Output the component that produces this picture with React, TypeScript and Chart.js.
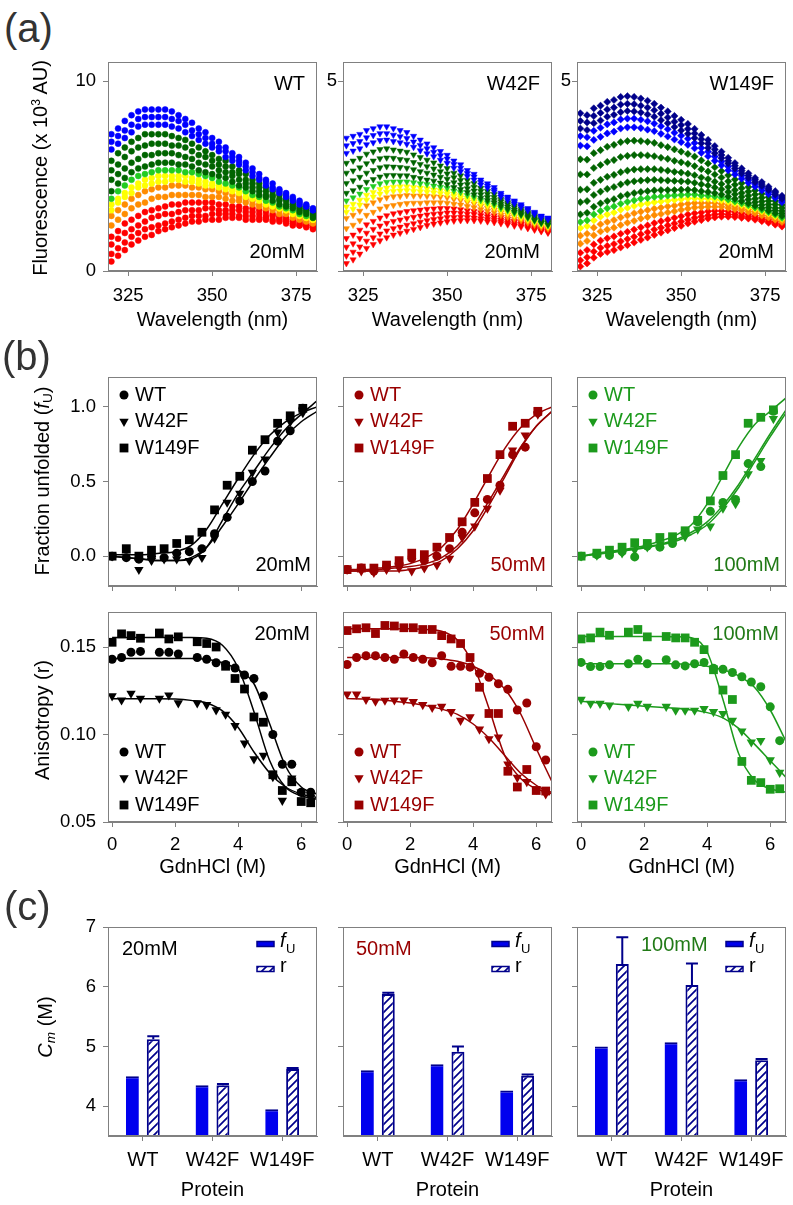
import React, { useEffect, useRef } from 'react';
import { Chart, registerables } from 'chart.js';

Chart.register(...registerables);

const FONT = 'Arial, "Liberation Sans", Helvetica, sans-serif';
Chart.defaults.font.family = FONT;
Chart.defaults.color = '#000';

// ---------------- (a) emission spectra ----------------
const WAVELENGTHS = [320, 322, 324, 326, 328, 330, 332, 334, 336, 338, 340, 342, 344, 346, 348, 350, 352, 354, 356, 358, 360, 362, 364, 366, 368, 370, 372, 374, 376, 378, 380];

const WT_S01 = [7.2, 7.5, 7.9, 8.2, 8.4, 8.5, 8.5, 8.5, 8.5, 8.4, 8.2, 8.0, 7.8, 7.5, 7.3, 7.0, 6.8, 6.5, 6.2, 6.0, 5.7, 5.4, 5.1, 4.8, 4.6, 4.3, 4.1, 3.9, 3.7, 3.5, 3.3];
const WT_S02 = [6.8, 7.1, 7.4, 7.7, 8.0, 8.1, 8.1, 8.1, 8.1, 8.0, 7.9, 7.7, 7.4, 7.2, 7.0, 6.7, 6.5, 6.3, 6.0, 5.8, 5.5, 5.2, 4.9, 4.7, 4.4, 4.2, 4.0, 3.8, 3.6, 3.4, 3.2];
const WT_S03 = [6.4, 6.7, 7.0, 7.3, 7.6, 7.7, 7.7, 7.7, 7.7, 7.6, 7.5, 7.3, 7.1, 6.9, 6.7, 6.5, 6.3, 6.0, 5.8, 5.6, 5.3, 5.0, 4.8, 4.5, 4.3, 4.1, 3.9, 3.7, 3.5, 3.4, 3.2];
const WT_S04 = [5.8, 6.2, 6.5, 6.8, 7.0, 7.2, 7.2, 7.2, 7.2, 7.1, 7.0, 6.9, 6.7, 6.5, 6.3, 6.1, 5.9, 5.8, 5.5, 5.3, 5.1, 4.8, 4.6, 4.4, 4.2, 4.0, 3.8, 3.6, 3.4, 3.3, 3.1];
const WT_S05 = [5.3, 5.6, 6.0, 6.3, 6.5, 6.6, 6.7, 6.7, 6.7, 6.6, 6.6, 6.5, 6.3, 6.1, 6.0, 5.8, 5.6, 5.5, 5.2, 5.1, 4.8, 4.6, 4.4, 4.2, 4.0, 3.8, 3.7, 3.5, 3.3, 3.2, 3.0];
const WT_S06 = [4.8, 5.1, 5.4, 5.7, 5.9, 6.1, 6.1, 6.2, 6.2, 6.2, 6.1, 6.0, 5.9, 5.7, 5.6, 5.5, 5.3, 5.2, 5.0, 4.8, 4.6, 4.4, 4.2, 4.0, 3.9, 3.7, 3.5, 3.4, 3.2, 3.1, 2.9];
const WT_S07 = [4.2, 4.6, 4.9, 5.2, 5.4, 5.5, 5.6, 5.7, 5.7, 5.7, 5.6, 5.6, 5.5, 5.3, 5.2, 5.1, 5.0, 4.9, 4.7, 4.5, 4.4, 4.2, 4.0, 3.9, 3.7, 3.5, 3.4, 3.3, 3.1, 3.0, 2.8];
const WT_S08 = [3.8, 4.2, 4.5, 4.8, 5.0, 5.1, 5.2, 5.3, 5.3, 5.3, 5.3, 5.2, 5.2, 5.1, 5.0, 4.9, 4.7, 4.6, 4.5, 4.4, 4.2, 4.0, 3.9, 3.7, 3.6, 3.4, 3.3, 3.2, 3.0, 2.9, 2.8];
const WT_S09 = [3.5, 3.8, 4.1, 4.4, 4.6, 4.8, 4.9, 5.0, 5.0, 5.0, 5.0, 5.0, 4.9, 4.8, 4.7, 4.6, 4.5, 4.4, 4.3, 4.2, 4.1, 3.9, 3.8, 3.6, 3.5, 3.3, 3.2, 3.1, 3.0, 2.8, 2.7];
const WT_S10 = [3.2, 3.6, 3.9, 4.1, 4.4, 4.5, 4.6, 4.7, 4.7, 4.8, 4.8, 4.7, 4.7, 4.6, 4.5, 4.5, 4.4, 4.3, 4.2, 4.1, 3.9, 3.8, 3.7, 3.5, 3.4, 3.3, 3.2, 3.0, 2.9, 2.8, 2.7];
const WT_S11 = [2.9, 3.2, 3.5, 3.8, 4.0, 4.2, 4.3, 4.4, 4.4, 4.5, 4.5, 4.5, 4.4, 4.4, 4.3, 4.3, 4.2, 4.1, 4.0, 3.9, 3.8, 3.7, 3.5, 3.4, 3.3, 3.2, 3.1, 3.0, 2.8, 2.7, 2.6];
const WT_S12 = [2.4, 2.7, 3.0, 3.3, 3.5, 3.6, 3.8, 3.9, 3.9, 4.0, 4.0, 4.0, 4.0, 4.0, 3.9, 3.9, 3.9, 3.8, 3.7, 3.7, 3.6, 3.5, 3.4, 3.3, 3.2, 3.0, 3.0, 2.8, 2.7, 2.6, 2.5];
const WT_S13 = [1.8, 2.1, 2.5, 2.7, 2.9, 3.1, 3.2, 3.3, 3.4, 3.5, 3.5, 3.6, 3.6, 3.6, 3.6, 3.6, 3.5, 3.5, 3.4, 3.4, 3.3, 3.3, 3.2, 3.1, 3.0, 2.9, 2.8, 2.7, 2.6, 2.5, 2.4];
const WT_S14 = [1.4, 1.7, 2.0, 2.2, 2.4, 2.6, 2.8, 2.9, 3.0, 3.0, 3.1, 3.2, 3.2, 3.2, 3.3, 3.3, 3.2, 3.2, 3.2, 3.2, 3.1, 3.1, 3.0, 2.9, 2.9, 2.8, 2.7, 2.6, 2.5, 2.4, 2.3];
const WT_S15 = [0.9, 1.2, 1.5, 1.8, 2.0, 2.2, 2.3, 2.4, 2.5, 2.6, 2.7, 2.8, 2.9, 2.9, 2.9, 3.0, 3.0, 3.0, 3.0, 2.9, 2.9, 2.9, 2.8, 2.8, 2.7, 2.7, 2.6, 2.5, 2.4, 2.4, 2.3];
const WT_S16 = [0.5, 0.8, 1.1, 1.4, 1.6, 1.8, 1.9, 2.1, 2.2, 2.3, 2.4, 2.5, 2.6, 2.6, 2.7, 2.7, 2.7, 2.8, 2.8, 2.8, 2.7, 2.7, 2.7, 2.7, 2.6, 2.6, 2.5, 2.4, 2.4, 2.3, 2.2];

const W42F_S01 = [3.5, 3.55, 3.6, 3.7, 3.75, 3.8, 3.8, 3.75, 3.7, 3.65, 3.55, 3.45, 3.35, 3.25, 3.15, 3.05, 2.9, 2.8, 2.65, 2.55, 2.4, 2.3, 2.2, 2.05, 1.95, 1.85, 1.75, 1.65, 1.55, 1.45, 1.4];
const W42F_S02 = [3.3, 3.36, 3.41, 3.51, 3.57, 3.62, 3.62, 3.58, 3.54, 3.49, 3.4, 3.31, 3.22, 3.13, 3.04, 2.95, 2.81, 2.71, 2.57, 2.48, 2.34, 2.24, 2.14, 2.0, 1.91, 1.81, 1.71, 1.62, 1.52, 1.43, 1.38];
const W42F_S03 = [3.1, 3.16, 3.22, 3.33, 3.38, 3.44, 3.45, 3.41, 3.38, 3.34, 3.26, 3.17, 3.09, 3.01, 2.92, 2.84, 2.71, 2.62, 2.49, 2.4, 2.27, 2.18, 2.09, 1.95, 1.86, 1.77, 1.68, 1.59, 1.49, 1.4, 1.35];
const W42F_S04 = [2.84, 2.9, 2.97, 3.08, 3.14, 3.2, 3.22, 3.19, 3.16, 3.13, 3.06, 2.99, 2.92, 2.85, 2.77, 2.7, 2.58, 2.51, 2.39, 2.31, 2.18, 2.1, 2.02, 1.89, 1.8, 1.72, 1.63, 1.54, 1.46, 1.37, 1.32];
const W42F_S05 = [2.58, 2.64, 2.72, 2.83, 2.9, 2.96, 2.98, 2.97, 2.94, 2.92, 2.86, 2.81, 2.75, 2.69, 2.62, 2.56, 2.46, 2.39, 2.28, 2.21, 2.1, 2.02, 1.94, 1.83, 1.75, 1.67, 1.58, 1.5, 1.42, 1.34, 1.29];
const W42F_S06 = [2.31, 2.38, 2.47, 2.58, 2.65, 2.72, 2.75, 2.74, 2.73, 2.71, 2.67, 2.62, 2.58, 2.53, 2.47, 2.42, 2.33, 2.27, 2.17, 2.11, 2.01, 1.94, 1.87, 1.76, 1.69, 1.61, 1.54, 1.46, 1.38, 1.3, 1.26];
const W42F_S07 = [2.05, 2.12, 2.21, 2.34, 2.41, 2.48, 2.52, 2.52, 2.51, 2.51, 2.47, 2.44, 2.4, 2.37, 2.32, 2.28, 2.2, 2.15, 2.07, 2.01, 1.92, 1.86, 1.8, 1.7, 1.63, 1.56, 1.49, 1.42, 1.34, 1.27, 1.22];
const W42F_S08 = [1.85, 1.93, 2.03, 2.15, 2.23, 2.3, 2.34, 2.35, 2.35, 2.35, 2.33, 2.3, 2.28, 2.24, 2.21, 2.18, 2.11, 2.07, 1.99, 1.94, 1.86, 1.8, 1.74, 1.65, 1.59, 1.52, 1.46, 1.39, 1.32, 1.25, 1.2];
const W42F_S09 = [1.69, 1.76, 1.87, 2.0, 2.07, 2.15, 2.19, 2.21, 2.22, 2.22, 2.2, 2.19, 2.17, 2.14, 2.12, 2.09, 2.03, 1.99, 1.92, 1.88, 1.81, 1.75, 1.69, 1.61, 1.55, 1.49, 1.43, 1.36, 1.29, 1.22, 1.18];
const W42F_S10 = [1.55, 1.63, 1.74, 1.87, 1.95, 2.03, 2.08, 2.1, 2.11, 2.12, 2.1, 2.09, 2.08, 2.06, 2.04, 2.02, 1.97, 1.93, 1.87, 1.83, 1.76, 1.71, 1.66, 1.58, 1.52, 1.46, 1.4, 1.34, 1.27, 1.21, 1.16];
const W42F_S11 = [1.39, 1.47, 1.58, 1.72, 1.8, 1.88, 1.93, 1.96, 1.97, 1.99, 1.98, 1.98, 1.97, 1.96, 1.95, 1.93, 1.89, 1.86, 1.81, 1.77, 1.71, 1.66, 1.61, 1.54, 1.48, 1.43, 1.37, 1.31, 1.25, 1.19, 1.14];
const W42F_S12 = [1.12, 1.21, 1.33, 1.47, 1.55, 1.64, 1.7, 1.73, 1.76, 1.78, 1.79, 1.79, 1.8, 1.8, 1.8, 1.79, 1.76, 1.74, 1.7, 1.67, 1.62, 1.58, 1.54, 1.47, 1.42, 1.37, 1.33, 1.27, 1.21, 1.15, 1.11];
const W42F_S13 = [0.86, 0.95, 1.08, 1.22, 1.31, 1.4, 1.46, 1.51, 1.54, 1.57, 1.59, 1.61, 1.63, 1.64, 1.65, 1.65, 1.64, 1.62, 1.59, 1.57, 1.54, 1.5, 1.46, 1.41, 1.37, 1.32, 1.28, 1.23, 1.17, 1.12, 1.08];
const W42F_S14 = [0.63, 0.72, 0.86, 1.0, 1.1, 1.19, 1.26, 1.31, 1.35, 1.39, 1.42, 1.45, 1.48, 1.5, 1.51, 1.53, 1.53, 1.52, 1.5, 1.49, 1.46, 1.43, 1.4, 1.35, 1.31, 1.28, 1.24, 1.19, 1.14, 1.09, 1.05];
const W42F_S15 = [0.4, 0.5, 0.64, 0.79, 0.88, 0.98, 1.06, 1.12, 1.16, 1.21, 1.25, 1.29, 1.33, 1.36, 1.38, 1.41, 1.41, 1.42, 1.41, 1.4, 1.38, 1.36, 1.34, 1.3, 1.26, 1.23, 1.2, 1.15, 1.11, 1.06, 1.02];
const W42F_S16 = [0.2, 0.3, 0.45, 0.6, 0.7, 0.8, 0.88, 0.95, 1.0, 1.05, 1.1, 1.15, 1.2, 1.24, 1.27, 1.3, 1.32, 1.33, 1.33, 1.33, 1.32, 1.3, 1.28, 1.25, 1.22, 1.19, 1.16, 1.12, 1.08, 1.04, 1.0];

const W149F_S01 = [4.15, 4.1, 4.28, 4.35, 4.45, 4.5, 4.58, 4.6, 4.58, 4.54, 4.48, 4.4, 4.3, 4.2, 4.08, 3.98, 3.87, 3.74, 3.58, 3.45, 3.29, 3.14, 2.98, 2.84, 2.7, 2.57, 2.45, 2.34, 2.22, 2.1, 1.98];
const W149F_S02 = [3.95, 3.91, 4.08, 4.16, 4.25, 4.3, 4.38, 4.4, 4.39, 4.35, 4.3, 4.23, 4.14, 4.04, 3.93, 3.84, 3.74, 3.62, 3.47, 3.35, 3.2, 3.05, 2.9, 2.77, 2.64, 2.51, 2.4, 2.29, 2.17, 2.06, 1.94];
const W149F_S03 = [3.75, 3.71, 3.89, 3.96, 4.06, 4.11, 4.18, 4.21, 4.2, 4.17, 4.12, 4.06, 3.97, 3.89, 3.79, 3.7, 3.61, 3.5, 3.36, 3.24, 3.1, 2.97, 2.83, 2.7, 2.57, 2.45, 2.34, 2.24, 2.13, 2.01, 1.9];
const W149F_S04 = [3.55, 3.52, 3.69, 3.77, 3.86, 3.91, 3.99, 4.01, 4.01, 3.98, 3.94, 3.88, 3.81, 3.73, 3.64, 3.56, 3.48, 3.37, 3.24, 3.14, 3.01, 2.88, 2.75, 2.63, 2.51, 2.39, 2.29, 2.19, 2.08, 1.97, 1.86];
const W149F_S05 = [3.3, 3.28, 3.45, 3.53, 3.62, 3.67, 3.75, 3.78, 3.78, 3.76, 3.72, 3.68, 3.61, 3.54, 3.46, 3.39, 3.32, 3.23, 3.11, 3.02, 2.9, 2.78, 2.65, 2.54, 2.43, 2.32, 2.22, 2.12, 2.02, 1.92, 1.81];
const W149F_S06 = [2.94, 2.93, 3.1, 3.18, 3.27, 3.32, 3.39, 3.42, 3.43, 3.42, 3.4, 3.37, 3.31, 3.26, 3.2, 3.14, 3.08, 3.01, 2.91, 2.83, 2.73, 2.63, 2.52, 2.41, 2.31, 2.21, 2.12, 2.03, 1.94, 1.84, 1.74];
const W149F_S07 = [2.54, 2.54, 2.71, 2.79, 2.87, 2.92, 3.0, 3.03, 3.05, 3.05, 3.04, 3.02, 2.98, 2.95, 2.9, 2.86, 2.82, 2.76, 2.68, 2.62, 2.54, 2.46, 2.36, 2.27, 2.18, 2.09, 2.01, 1.93, 1.84, 1.75, 1.66];
const W149F_S08 = [2.14, 2.15, 2.32, 2.4, 2.48, 2.53, 2.6, 2.64, 2.67, 2.68, 2.68, 2.68, 2.66, 2.64, 2.61, 2.59, 2.56, 2.52, 2.46, 2.42, 2.35, 2.29, 2.21, 2.13, 2.05, 1.98, 1.9, 1.83, 1.75, 1.66, 1.58];
const W149F_S09 = [1.81, 1.84, 2.0, 2.09, 2.16, 2.21, 2.28, 2.33, 2.36, 2.38, 2.39, 2.4, 2.39, 2.38, 2.37, 2.36, 2.35, 2.32, 2.28, 2.25, 2.2, 2.15, 2.08, 2.02, 1.95, 1.88, 1.81, 1.74, 1.67, 1.59, 1.51];
const W149F_S10 = [1.49, 1.53, 1.69, 1.78, 1.84, 1.89, 1.97, 2.01, 2.05, 2.08, 2.1, 2.12, 2.13, 2.13, 2.13, 2.14, 2.14, 2.13, 2.1, 2.08, 2.05, 2.01, 1.96, 1.9, 1.84, 1.78, 1.72, 1.66, 1.59, 1.52, 1.45];
const W149F_S11 = [1.29, 1.33, 1.49, 1.58, 1.65, 1.7, 1.77, 1.82, 1.86, 1.9, 1.92, 1.95, 1.96, 1.98, 1.99, 2.0, 2.01, 2.01, 1.99, 1.98, 1.96, 1.93, 1.88, 1.83, 1.78, 1.73, 1.67, 1.61, 1.55, 1.48, 1.4];
const W149F_S12 = [1.13, 1.18, 1.33, 1.43, 1.49, 1.54, 1.61, 1.66, 1.71, 1.75, 1.78, 1.81, 1.83, 1.85, 1.87, 1.89, 1.91, 1.91, 1.9, 1.9, 1.88, 1.86, 1.82, 1.78, 1.73, 1.68, 1.63, 1.57, 1.51, 1.44, 1.37];
const W149F_S13 = [0.93, 0.98, 1.14, 1.23, 1.29, 1.34, 1.41, 1.46, 1.52, 1.56, 1.6, 1.64, 1.67, 1.7, 1.72, 1.75, 1.77, 1.79, 1.79, 1.79, 1.79, 1.77, 1.74, 1.7, 1.66, 1.62, 1.57, 1.52, 1.46, 1.4, 1.33];
const W149F_S14 = [0.72, 0.79, 0.94, 1.04, 1.09, 1.14, 1.21, 1.27, 1.32, 1.38, 1.42, 1.47, 1.5, 1.54, 1.57, 1.61, 1.64, 1.67, 1.68, 1.69, 1.69, 1.69, 1.66, 1.63, 1.6, 1.56, 1.52, 1.46, 1.41, 1.35, 1.29];
const W149F_S15 = [0.48, 0.55, 0.7, 0.8, 0.86, 0.91, 0.98, 1.03, 1.09, 1.15, 1.2, 1.26, 1.31, 1.35, 1.4, 1.44, 1.49, 1.52, 1.54, 1.57, 1.58, 1.58, 1.57, 1.55, 1.52, 1.49, 1.45, 1.4, 1.36, 1.3, 1.24];
const W149F_S16 = [0.28, 0.36, 0.51, 0.61, 0.66, 0.71, 0.78, 0.84, 0.9, 0.97, 1.02, 1.09, 1.14, 1.2, 1.25, 1.3, 1.35, 1.4, 1.43, 1.46, 1.49, 1.5, 1.49, 1.48, 1.45, 1.43, 1.39, 1.35, 1.31, 1.26, 1.2];
const W149F_S17 = [0.12, 0.2, 0.35, 0.45, 0.5, 0.55, 0.62, 0.68, 0.75, 0.82, 0.88, 0.95, 1.01, 1.07, 1.13, 1.19, 1.25, 1.3, 1.34, 1.38, 1.41, 1.43, 1.43, 1.42, 1.4, 1.38, 1.35, 1.31, 1.27, 1.22, 1.17];

const NAVY = '#00008b';
const BLUE = '#0000ff';
const DKGREEN = '#006400';
const LTGREEN = '#22cc22';
const YELLOW = '#ffff00';
const ORANGE = '#ff8c00';
const RED = '#ff0000';

const WT_SPECTRA = [WT_S01, WT_S02, WT_S03, WT_S04, WT_S05, WT_S06, WT_S07, WT_S08, WT_S09, WT_S10, WT_S11, WT_S12, WT_S13, WT_S14, WT_S15, WT_S16];
const WT_COLORS = [BLUE, BLUE, BLUE, DKGREEN, DKGREEN, DKGREEN, DKGREEN, LTGREEN, YELLOW, YELLOW, ORANGE, ORANGE, RED, RED, RED, RED];
const W42F_SPECTRA = [W42F_S01, W42F_S02, W42F_S03, W42F_S04, W42F_S05, W42F_S06, W42F_S07, W42F_S08, W42F_S09, W42F_S10, W42F_S11, W42F_S12, W42F_S13, W42F_S14, W42F_S15, W42F_S16];
const W42F_COLORS = WT_COLORS;
const W149F_SPECTRA = [W149F_S01, W149F_S02, W149F_S03, W149F_S04, W149F_S05, W149F_S06, W149F_S07, W149F_S08, W149F_S09, W149F_S10, W149F_S11, W149F_S12, W149F_S13, W149F_S14, W149F_S15, W149F_S16, W149F_S17];
const W149F_COLORS = [NAVY, NAVY, NAVY, BLUE, BLUE, DKGREEN, DKGREEN, DKGREEN, DKGREEN, DKGREEN, LTGREEN, YELLOW, ORANGE, ORANGE, RED, RED, RED];

// ---------------- (b) denaturation curves ----------------
const FIT_X = [0, 0.5, 1, 1.5, 2, 2.5, 3, 3.5, 4, 4.5, 5, 5.5, 6, 6.5];

const FU20_X = [0, 0.45, 0.85, 1.25, 1.65, 2.05, 2.45, 2.85, 3.25, 3.65, 4.05, 4.45, 4.85, 5.25, 5.65, 6.05];
const FU20_WT = [0, -0.01, -0.02, 0.0, -0.01, 0.02, 0.03, 0.05, 0.15, 0.26, 0.37, 0.5, 0.57, 0.77, 0.84, 0.99];
const FU20_W42F = [0, 0.0, -0.09, -0.03, -0.02, -0.02, -0.03, -0.01, 0.12, 0.36, 0.42, 0.56, 0.65, 0.83, 0.9, 0.96];
const FU20_W149F = [0, 0.05, 0.0, 0.04, 0.05, 0.085, 0.11, 0.16, 0.31, 0.475, 0.535, 0.71, 0.78, 0.89, 0.94, 0.99];
const FU20_WT_FIT = [0, -0.01, -0.02, -0.03, -0.03, -0.01, 0.06, 0.2, 0.35, 0.51, 0.66, 0.8, 0.9, 0.97];
const FU20_W42F_FIT = [0, -0.01, -0.02, -0.03, -0.03, -0.02, 0.06, 0.24, 0.42, 0.57, 0.72, 0.85, 0.95, 1.04];
const FU20_W149F_FIT = [0.01, 0.01, 0.01, 0.02, 0.03, 0.07, 0.18, 0.35, 0.52, 0.68, 0.81, 0.9, 0.96, 1.0];

const FU50_X = [0, 0.45, 0.85, 1.25, 1.65, 2.05, 2.45, 2.85, 3.25, 3.65, 4.05, 4.45, 4.85, 5.25, 5.65, 6.05];
const FU50_WT = [-0.09, -0.08, -0.1, -0.07, -0.05, -0.015, -0.03, 0.0, 0.05, 0.16, 0.29, 0.38, 0.475, 0.68, 0.73, 0.96];
const FU50_W42F = [-0.09, -0.1, -0.11, -0.09, -0.08, -0.1, -0.08, -0.06, -0.015, 0.125, 0.2, 0.32, 0.44, 0.71, 0.81, 0.95];
const FU50_W149F = [-0.09, -0.08, -0.08, -0.06, -0.03, 0.02, 0.01, 0.06, 0.125, 0.23, 0.36, 0.52, 0.68, 0.87, 0.89, 0.97];
const FU50_WT_FIT = [-0.1, -0.1, -0.09, -0.08, -0.07, -0.05, -0.01, 0.07, 0.2, 0.37, 0.55, 0.73, 0.87, 0.97];
const FU50_W42F_FIT = [-0.1, -0.1, -0.1, -0.1, -0.09, -0.07, -0.03, 0.05, 0.17, 0.34, 0.53, 0.72, 0.87, 0.97];
const FU50_W149F_FIT = [-0.09, -0.09, -0.08, -0.07, -0.05, -0.01, 0.06, 0.18, 0.35, 0.54, 0.72, 0.86, 0.95, 1.0];

const FU100_X = [0, 0.5, 0.9, 1.3, 1.7, 2.1, 2.5, 2.9, 3.3, 3.7, 4.1, 4.5, 4.9, 5.3, 5.7, 6.1];
const FU100_WT = [0, 0.01, 0.005, 0.03, -0.005, 0.067, 0.06, 0.085, 0.16, 0.23, 0.3, 0.36, 0.38, 0.62, 0.6, 0.97];
const FU100_W42F = [0, 0.005, 0.02, 0.02, 0.04, 0.06, 0.08, 0.1, 0.13, 0.18, 0.2, 0.32, 0.35, 0.55, 0.64, 0.92];
const FU100_W149F = [0, 0.02, 0.04, 0.06, 0.09, 0.085, 0.125, 0.13, 0.17, 0.24, 0.37, 0.54, 0.68, 0.89, 0.93, 0.98];
const FU100_WT_FIT = [0, 0.015, 0.03, 0.045, 0.06, 0.08, 0.11, 0.16, 0.23, 0.34, 0.48, 0.65, 0.82, 0.98];
const FU100_W42F_FIT = [0, 0.012, 0.025, 0.04, 0.055, 0.075, 0.1, 0.145, 0.21, 0.32, 0.46, 0.63, 0.8, 0.96];
const FU100_W149F_FIT = [0, 0.02, 0.035, 0.05, 0.07, 0.1, 0.14, 0.21, 0.35, 0.54, 0.73, 0.88, 0.97, 1.06];

const AN20_X = [0, 0.3, 0.6, 0.9, 1.5, 1.8, 2.1, 2.7, 3.0, 3.3, 3.6, 3.9, 4.2, 4.5, 4.8, 5.1, 5.4, 5.7, 6.0, 6.3];
const AN20_WT = [0.143, 0.144, 0.147, 0.1475, 0.147, 0.147, 0.146, 0.144, 0.143, 0.141, 0.14, 0.138, 0.134, 0.132, 0.122, 0.1, 0.083, 0.083, 0.067, 0.067];
const AN20_W42F = [0.122, 0.1196, 0.1235, 0.1206, 0.1206, 0.1225, 0.118, 0.118, 0.117, 0.114, 0.1115, 0.105, 0.095, 0.086, 0.088, 0.0758, 0.0623, 0.075, 0.067, 0.064];
const AN20_W149F = [0.1527, 0.1575, 0.1565, 0.155, 0.158, 0.1546, 0.1558, 0.153, 0.152, 0.15, 0.139, 0.132, 0.126, 0.11, 0.107, 0.077, 0.068, 0.073, 0.0617, 0.061];
const AN20_WT_FIT = [0.1435, 0.1435, 0.1435, 0.1435, 0.1435, 0.1435, 0.143, 0.141, 0.137, 0.129, 0.106, 0.082, 0.07, 0.066];
const AN20_W42F_FIT = [0.1205, 0.1205, 0.1205, 0.1205, 0.1203, 0.1195, 0.118, 0.1135, 0.104, 0.09, 0.078, 0.07, 0.066, 0.064];
const AN20_W149F_FIT = [0.1555, 0.1555, 0.1555, 0.1555, 0.1555, 0.1555, 0.155, 0.151, 0.138, 0.113, 0.085, 0.07, 0.065, 0.063];

const AN50_X = [0, 0.3, 0.6, 0.9, 1.2, 1.5, 1.8, 2.1, 2.4, 2.7, 3.0, 3.3, 3.6, 3.9, 4.2, 4.5, 4.8, 5.1, 5.4, 5.7, 6.0, 6.3];
const AN50_WT = [0.14, 0.144, 0.145, 0.145, 0.144, 0.143, 0.146, 0.144, 0.143, 0.141, 0.145, 0.139, 0.139, 0.1385, 0.135, 0.1327, 0.129, 0.1258, 0.114, 0.118, 0.093, 0.0854];
const AN50_W42F = [0.123, 0.123, 0.12, 0.119, 0.1195, 0.1196, 0.1196, 0.1187, 0.117, 0.1154, 0.116, 0.113, 0.108, 0.11, 0.103, 0.0975, 0.0985, 0.083, 0.0754, 0.073, 0.0687, 0.066];
const AN50_W149F = [0.1594, 0.1604, 0.161, 0.1577, 0.1623, 0.162, 0.161, 0.161, 0.16, 0.16, 0.1565, 0.1546, 0.152, 0.144, 0.127, 0.112, 0.112, 0.079, 0.07, 0.08, 0.068, 0.0677];
const AN50_WT_FIT = [0.144, 0.144, 0.144, 0.144, 0.144, 0.1438, 0.1432, 0.1418, 0.139, 0.134, 0.126, 0.112, 0.092, 0.073];
const AN50_W42F_FIT = [0.1205, 0.1203, 0.1198, 0.119, 0.118, 0.1165, 0.1145, 0.1115, 0.106, 0.098, 0.088, 0.078, 0.071, 0.066];
const AN50_W149F_FIT = [0.1605, 0.1605, 0.1605, 0.1605, 0.1604, 0.16, 0.159, 0.154, 0.14, 0.115, 0.088, 0.075, 0.069, 0.067];

const AN100_X = [0, 0.3, 0.6, 0.9, 1.5, 1.8, 2.1, 2.7, 3.0, 3.3, 3.6, 3.9, 4.2, 4.5, 4.8, 5.1, 5.4, 5.7, 6.0, 6.3];
const AN100_WT = [0.1412, 0.1388, 0.1388, 0.1398, 0.1404, 0.143, 0.1404, 0.1427, 0.1398, 0.1392, 0.1404, 0.1412, 0.1379, 0.1373, 0.1354, 0.133, 0.13, 0.1273, 0.1158, 0.0965];
const AN100_W42F = [0.12, 0.1177, 0.1177, 0.1167, 0.116, 0.1177, 0.116, 0.116, 0.1138, 0.1138, 0.1138, 0.1148, 0.113, 0.1119, 0.108, 0.1019, 0.0956, 0.0965, 0.0854, 0.0783];
const AN100_W149F = [0.1546, 0.1552, 0.1585, 0.1567, 0.1585, 0.16, 0.1558, 0.156, 0.1552, 0.1552, 0.1527, 0.1485, 0.137, 0.1254, 0.12, 0.0846, 0.0738, 0.0725, 0.0687, 0.069];
const AN100_WT_FIT = [0.1405, 0.1405, 0.1405, 0.1405, 0.1405, 0.1405, 0.1404, 0.14, 0.139, 0.137, 0.1335, 0.127, 0.114, 0.096];
const AN100_W42F_FIT = [0.119, 0.1182, 0.1175, 0.1168, 0.1162, 0.1156, 0.115, 0.114, 0.1125, 0.1095, 0.1035, 0.0945, 0.085, 0.0755];
const AN100_W149F_FIT = [0.156, 0.156, 0.156, 0.156, 0.156, 0.156, 0.1558, 0.1553, 0.147, 0.12, 0.089, 0.074, 0.069, 0.067];

// ---------------- (c) Cm bars ----------------
const CATEGORIES = ['WT', 'W42F', 'W149F'];
const CM_FU_20 = [4.5, 4.35, 3.95];
const CM_R_20 = [5.12, 4.35, 4.62];
const CM_R_ERR_20 = [0.05, 0.02, 0.02];
const CM_FU_50 = [4.6, 4.7, 4.26];
const CM_R_50 = [5.88, 4.91, 4.51];
const CM_R_ERR_50 = [0.02, 0.09, 0.02];
const CM_FU_100 = [5.0, 5.07, 4.45];
const CM_R_100 = [6.38, 6.03, 4.77];
const CM_R_ERR_100 = [0.45, 0.36, 0.02];

// ---------------- layout helpers ----------------
const ML = 70, MR = 12, MT = 12, MB = 46;
const AXIS = '#808080';
const C20 = '#000000';
const C50 = '#990000';
const C100 = '#1c9a1c';
const C100TXT = '#217a17';
const PX = [108, 343, 577];
const PW = 209;

function numAxis(kind: 'x' | 'y', min: number, max: number, values: number[], fmt: ((v: number) => string) | null, pad: number) {
  return {
    type: 'linear',
    position: kind === 'x' ? 'bottom' : 'left',
    min,
    max,
    afterBuildTicks: (s: any) => { s.ticks = values.map((v) => ({ value: v })); },
    grid: { drawOnChartArea: false, drawTicks: true, tickLength: 5, color: AXIS, lineWidth: 1 },
    border: { display: true, color: AXIS, width: 1 },
    ticks: {
      display: fmt !== null,
      callback: (v: any) => (fmt ? fmt(Number(v)) : ''),
      font: { size: 18.5, family: FONT },
      color: '#000',
      padding: pad,
      maxRotation: 0,
      minRotation: 0,
      autoSkip: false,
    },
    afterFit: (s: any) => {
      if (kind === 'x') s.height = MB; else s.width = ML;
      s.paddingLeft = 0; s.paddingRight = 0; s.paddingTop = 0; s.paddingBottom = 0;
    },
  };
}

function baseOptions(scales: any) {
  return {
    animation: false,
    responsive: false,
    maintainAspectRatio: false,
    devicePixelRatio: 1,
    events: [],
    layout: { padding: { left: 0, right: MR, top: MT, bottom: 0 } },
    plugins: { legend: { display: false }, tooltip: { enabled: false }, title: { display: false } },
    scales,
  };
}

function frame(ctx: CanvasRenderingContext2D, a: any) {
  ctx.strokeStyle = AXIS;
  ctx.lineWidth = 1;
  ctx.strokeRect(Math.round(a.left) + 0.5, Math.round(a.top) + 0.5, Math.round(a.right - a.left) - 1, Math.round(a.bottom - a.top) - 1);
}

function text(ctx: CanvasRenderingContext2D, s: string, x: number, y: number, align: CanvasTextAlign, color: string, font = `20px ${FONT}`, baseline: CanvasTextBaseline = 'middle') {
  ctx.font = font;
  ctx.fillStyle = color;
  ctx.textAlign = align;
  ctx.textBaseline = baseline;
  ctx.fillText(s, x, y);
}

function marker(ctx: CanvasRenderingContext2D, style: string, x: number, y: number, color: string) {
  ctx.fillStyle = color;
  ctx.beginPath();
  if (style === 'circle') ctx.arc(x, y, 4.5, 0, Math.PI * 2);
  else if (style === 'triangle') {
    const R = 5.4;
    ctx.moveTo(x, y + R);
    ctx.lineTo(x - R * 0.866, y - R / 2);
    ctx.lineTo(x + R * 0.866, y - R / 2);
    ctx.closePath();
  } else ctx.rect(x - 4.4, y - 4.4, 8.8, 8.8);
  ctx.fill();
}

function extra(draw: (ctx: CanvasRenderingContext2D, a: any, chart: any) => void) {
  return {
    id: 'extra',
    afterDraw(chart: any) {
      const ctx = chart.ctx as CanvasRenderingContext2D;
      ctx.save();
      draw(ctx, chart.chartArea, chart);
      ctx.restore();
    },
  };
}

function Panel({ x, y, w, h, build }: { x: number; y: number; w: number; h: number; build: () => any }) {
  const ref = useRef<HTMLCanvasElement | null>(null);
  useEffect(() => {
    const chart = new Chart(ref.current as HTMLCanvasElement, build());
    return () => chart.destroy();
  }, []);
  const cw = w + ML + MR;
  const ch = h + MT + MB;
  return <canvas ref={ref} width={cw} height={ch} style={{ position: 'absolute', left: x - ML, top: y - MT, width: cw, height: ch }} />;
}

// ---------------- chart builders ----------------
function spectraConfig(curves: number[][], colors: string[], style: string, radius: number, rotation: number, ymax: number, yticks: number[], yfmt: (v: number) => string, ypad: number, name: string) {
  return {
    type: 'scatter',
    data: {
      datasets: curves.map((c, i) => ({
        data: WAVELENGTHS.map((w, j) => ({ x: w, y: c[j] })),
        pointStyle: style,
        pointRadius: radius,
        pointRotation: rotation,
        pointBackgroundColor: colors[i],
        pointBorderColor: colors[i],
        pointBorderWidth: 0.5,
        showLine: false,
      })),
    },
    options: baseOptions({
      x: numAxis('x', 319, 381.2, [325, 350, 375], (v) => String(v), 9),
      y: numAxis('y', 0, ymax, yticks, yfmt, ypad),
    }),
    plugins: [extra((ctx, a) => {
      frame(ctx, a);
      text(ctx, name, a.right - 12, a.top + 22, 'right', '#000');
      text(ctx, '20mM', a.right - 12, a.bottom - 19, 'right', '#000');
    })],
  };
}

const NAMES = ['WT', 'W42F', 'W149F'];
const STYLES = ['circle', 'triangle', 'rect'];

function titrationConfig(color: string, txtColor: string, conc: string, xs: number[][], ys: number[][], fits: number[][], kind: 'fu' | 'an', yLabels: boolean) {
  const pts = ys.map((yv, i) => ({
    data: xs[i].map((xv, j) => ({ x: xv, y: yv[j] })),
    pointStyle: STYLES[i],
    pointRadius: i === 0 ? 4.5 : i === 1 ? 5.4 : 6.2,
    pointRotation: i === 1 ? 180 : 0,
    pointBackgroundColor: color,
    pointBorderColor: color,
    pointBorderWidth: 0,
    showLine: false,
  }));
  const lines = fits.map((f) => ({
    data: FIT_X.map((xv, j) => ({ x: xv, y: f[j] })),
    showLine: true,
    borderColor: color,
    borderWidth: 1.5,
    pointRadius: 0,
    cubicInterpolationMode: 'monotone',
    fill: false,
  }));
  const y = kind === 'fu'
    ? numAxis('y', -0.2, 1.2, [0, 0.5, 1.0], yLabels ? (v) => v.toFixed(1) : null, 7)
    : numAxis('y', 0.05, 0.17, [0.05, 0.1, 0.15], yLabels ? (v) => v.toFixed(2) : null, 7);
  const x = numAxis('x', -0.13, 6.5, [0, 2, 4, 6], kind === 'an' ? (v) => String(v) : null, 7);
  return {
    type: 'scatter',
    data: { datasets: [...pts, ...lines] },
    options: baseOptions({ x, y }),
    plugins: [extra((ctx, a) => {
      frame(ctx, a);
      if (kind === 'fu') {
        [18, 44.5, 71].forEach((dy, i) => {
          marker(ctx, STYLES[i], a.left + 16, a.top + dy, color);
          text(ctx, NAMES[i], a.left + 27, a.top + dy, 'left', color);
        });
        text(ctx, conc, a.right - 6, a.bottom - 21, 'right', txtColor);
      } else {
        [70, 44, 17].forEach((dy, i) => {
          marker(ctx, STYLES[i], a.left + 16, a.bottom - dy, color);
          text(ctx, NAMES[i], a.left + 27, a.bottom - dy, 'left', color);
        });
        text(ctx, conc, a.right - 7, a.top + 22, 'right', txtColor);
      }
    })],
  };
}

function makeHatch() {
  const c = document.createElement('canvas');
  c.width = 8;
  c.height = 8;
  const g = c.getContext('2d') as CanvasRenderingContext2D;
  g.fillStyle = '#ffffff';
  g.fillRect(0, 0, 8, 8);
  g.strokeStyle = NAVY;
  g.lineWidth = 1.7;
  g.beginPath();
  g.moveTo(-2, 10); g.lineTo(10, -2);
  g.moveTo(-2, 2); g.lineTo(2, -2);
  g.moveTo(6, 10); g.lineTo(10, 6);
  g.stroke();
  return g.createPattern(c, 'repeat');
}

function barConfig(fu: number[], r: number[], err: number[], conc: string, concColor: string, concDx: number, concDy: number, yLabels: boolean) {
  const hatch = makeHatch();
  return {
    type: 'bar',
    data: {
      labels: CATEGORIES,
      datasets: [
        { data: fu, backgroundColor: '#0000ee', borderColor: NAVY, borderWidth: { top: 2, left: 0, right: 0, bottom: 0 }, borderSkipped: 'start', categoryPercentage: 0.6, barPercentage: 0.62 },
        { data: r, backgroundColor: hatch, borderColor: NAVY, borderWidth: 2, borderSkipped: 'start', categoryPercentage: 0.6, barPercentage: 0.62 },
      ],
    },
    options: baseOptions({
      x: {
        type: 'category',
        offset: true,
        grid: { offset: false, drawOnChartArea: false, drawTicks: true, tickLength: 5, color: AXIS },
        border: { display: true, color: AXIS, width: 1 },
        ticks: { font: { size: 20, family: FONT }, color: '#000', padding: 7, maxRotation: 0, minRotation: 0, autoSkip: false },
        afterFit: (s: any) => { s.height = MB; s.paddingLeft = 0; s.paddingRight = 0; s.paddingTop = 0; s.paddingBottom = 0; },
      },
      y: numAxis('y', 3.5, 7, [4, 5, 6, 7], yLabels ? (v) => String(v) : null, 7),
    }),
    plugins: [extra((ctx, a, chart) => {
      frame(ctx, a);
      // error bars on the anisotropy bars
      const meta = chart.getDatasetMeta(1);
      const ys = chart.scales.y;
      ctx.strokeStyle = NAVY;
      ctx.lineWidth = 2;
      meta.data.forEach((bar: any, i: number) => {
        const top = ys.getPixelForValue(r[i] + err[i]);
        ctx.beginPath();
        ctx.moveTo(bar.x, bar.y);
        ctx.lineTo(bar.x, top);
        ctx.moveTo(bar.x - 6, top);
        ctx.lineTo(bar.x + 6, top);
        ctx.stroke();
      });
      // concentration label
      text(ctx, conc, a.left + concDx, a.top + concDy, 'left', concColor);
      // legend
      const sx = a.right - 60;
      ctx.fillStyle = '#0000ee';
      ctx.fillRect(sx, a.top + 14.5, 17, 5);
      ctx.strokeStyle = NAVY;
      ctx.lineWidth = 1.5;
      ctx.strokeRect(sx, a.top + 14.5, 17, 5);
      ctx.fillStyle = hatch as any;
      ctx.fillRect(sx, a.top + 39.5, 17, 5);
      ctx.strokeRect(sx, a.top + 39.5, 17, 5);
      text(ctx, 'f', a.right - 37, a.top + 20, 'left', '#000', `italic 20px ${FONT}`, 'alphabetic');
      text(ctx, 'U', a.right - 31, a.top + 26, 'left', '#000', `13px ${FONT}`, 'alphabetic');
      text(ctx, 'r', a.right - 37, a.top + 45, 'left', '#000', `20px ${FONT}`, 'alphabetic');
    })],
  };
}

// ---------------- HTML text ----------------
function Label({ x, y, size = 20, rotate = false, color = '#000', children }: { x: number; y: number; size?: number; rotate?: boolean; color?: string; children: any }) {
  return (
    <div style={{
      position: 'absolute', left: x, top: y,
      transform: `translate(-50%, -50%)${rotate ? ' rotate(-90deg)' : ''}`,
      fontSize: size, lineHeight: 1, whiteSpace: 'nowrap', fontFamily: FONT, color,
    }}>{children}</div>
  );
}

function Letter({ x, y, children }: { x: number; y: number; children: any }) {
  return <div style={{ position: 'absolute', left: x, top: y, fontSize: 40, lineHeight: 1, fontFamily: FONT, color: '#333' }}>{children}</div>;
}

const ROW_A = 62, ROW_B1 = 377, ROW_B2 = 612, ROW_C = 927;

export default function App() {
  const sub: React.CSSProperties = { fontSize: '0.68em', verticalAlign: '-0.25em' };
  const sup: React.CSSProperties = { fontSize: '0.6em', verticalAlign: '0.6em' };
  return (
    <div style={{ position: 'absolute', left: 0, top: 0, width: 793, height: 1205, background: '#fff', overflow: 'hidden', fontFamily: FONT }}>
      {/* (a) */}
      <Panel x={PX[0]} y={ROW_A} w={PW} h={209} build={() => spectraConfig(WT_SPECTRA, WT_COLORS, 'circle', 3, 0, 11, [0, 10], (v) => String(v), 7, 'WT')} />
      <Panel x={PX[1]} y={ROW_A} w={PW} h={209} build={() => spectraConfig(W42F_SPECTRA, W42F_COLORS, 'triangle', 3.6, 180, 5.5, [0, 5], (v) => (v === 5 ? '5' : ''), 1, 'W42F')} />
      <Panel x={PX[2]} y={ROW_A} w={PW} h={209} build={() => spectraConfig(W149F_SPECTRA, W149F_COLORS, 'rectRot', 3.6, 0, 5.5, [0, 5], (v) => (v === 5 ? '5' : ''), 1, 'W149F')} />

      {/* (b) top: fraction unfolded */}
      <Panel x={PX[0]} y={ROW_B1} w={PW} h={209} build={() => titrationConfig(C20, C20, '20mM', [FU20_X, FU20_X, FU20_X], [FU20_WT, FU20_W42F, FU20_W149F], [FU20_WT_FIT, FU20_W42F_FIT, FU20_W149F_FIT], 'fu', true)} />
      <Panel x={PX[1]} y={ROW_B1} w={PW} h={209} build={() => titrationConfig(C50, C50, '50mM', [FU50_X, FU50_X, FU50_X], [FU50_WT, FU50_W42F, FU50_W149F], [FU50_WT_FIT, FU50_W42F_FIT, FU50_W149F_FIT], 'fu', false)} />
      <Panel x={PX[2]} y={ROW_B1} w={PW} h={209} build={() => titrationConfig(C100, C100TXT, '100mM', [FU100_X, FU100_X, FU100_X], [FU100_WT, FU100_W42F, FU100_W149F], [FU100_WT_FIT, FU100_W42F_FIT, FU100_W149F_FIT], 'fu', false)} />

      {/* (b) bottom: anisotropy */}
      <Panel x={PX[0]} y={ROW_B2} w={PW} h={210} build={() => titrationConfig(C20, C20, '20mM', [AN20_X, AN20_X, AN20_X], [AN20_WT, AN20_W42F, AN20_W149F], [AN20_WT_FIT, AN20_W42F_FIT, AN20_W149F_FIT], 'an', true)} />
      <Panel x={PX[1]} y={ROW_B2} w={PW} h={210} build={() => titrationConfig(C50, C50, '50mM', [AN50_X, AN50_X, AN50_X], [AN50_WT, AN50_W42F, AN50_W149F], [AN50_WT_FIT, AN50_W42F_FIT, AN50_W149F_FIT], 'an', false)} />
      <Panel x={PX[2]} y={ROW_B2} w={PW} h={210} build={() => titrationConfig(C100, C100TXT, '100mM', [AN100_X, AN100_X, AN100_X], [AN100_WT, AN100_W42F, AN100_W149F], [AN100_WT_FIT, AN100_W42F_FIT, AN100_W149F_FIT], 'an', false)} />

      {/* (c) */}
      <Panel x={PX[0]} y={ROW_C} w={PW} h={209} build={() => barConfig(CM_FU_20, CM_R_20, CM_R_ERR_20, '20mM', C20, 14, 22, true)} />
      <Panel x={PX[1]} y={ROW_C} w={PW} h={209} build={() => barConfig(CM_FU_50, CM_R_50, CM_R_ERR_50, '50mM', C50, 13, 22, false)} />
      <Panel x={PX[2]} y={ROW_C} w={PW} h={209} build={() => barConfig(CM_FU_100, CM_R_100, CM_R_ERR_100, '100mM', C100TXT, 64, 18, false)} />

      {/* panel letters */}
      <Letter x={4} y={8}>(a)</Letter>
      <Letter x={2} y={336}>(b)</Letter>
      <Letter x={4} y={886}>(c)</Letter>

      {/* axis titles */}
      <Label x={40} y={168} rotate>Fluorescence (x 10<span style={sup}>3</span> AU)</Label>
      <Label x={43} y={481} rotate>Fraction unfolded (<i>f</i><span style={sub}>U</span>)</Label>
      <Label x={42} y={720} rotate>Anisotropy (r)</Label>
      <Label x={46} y={1027} rotate><i>C</i><span style={sub}><i>m</i></span> (M)</Label>

      {PX.map((px) => <Label key={'w' + px} x={px + PW / 2} y={319}>Wavelength (nm)</Label>)}
      {PX.map((px) => <Label key={'g' + px} x={px + PW / 2} y={866}>GdnHCl (M)</Label>)}
      {PX.map((px) => <Label key={'p' + px} x={px + PW / 2} y={1189}>Protein</Label>)}
    </div>
  );
}
